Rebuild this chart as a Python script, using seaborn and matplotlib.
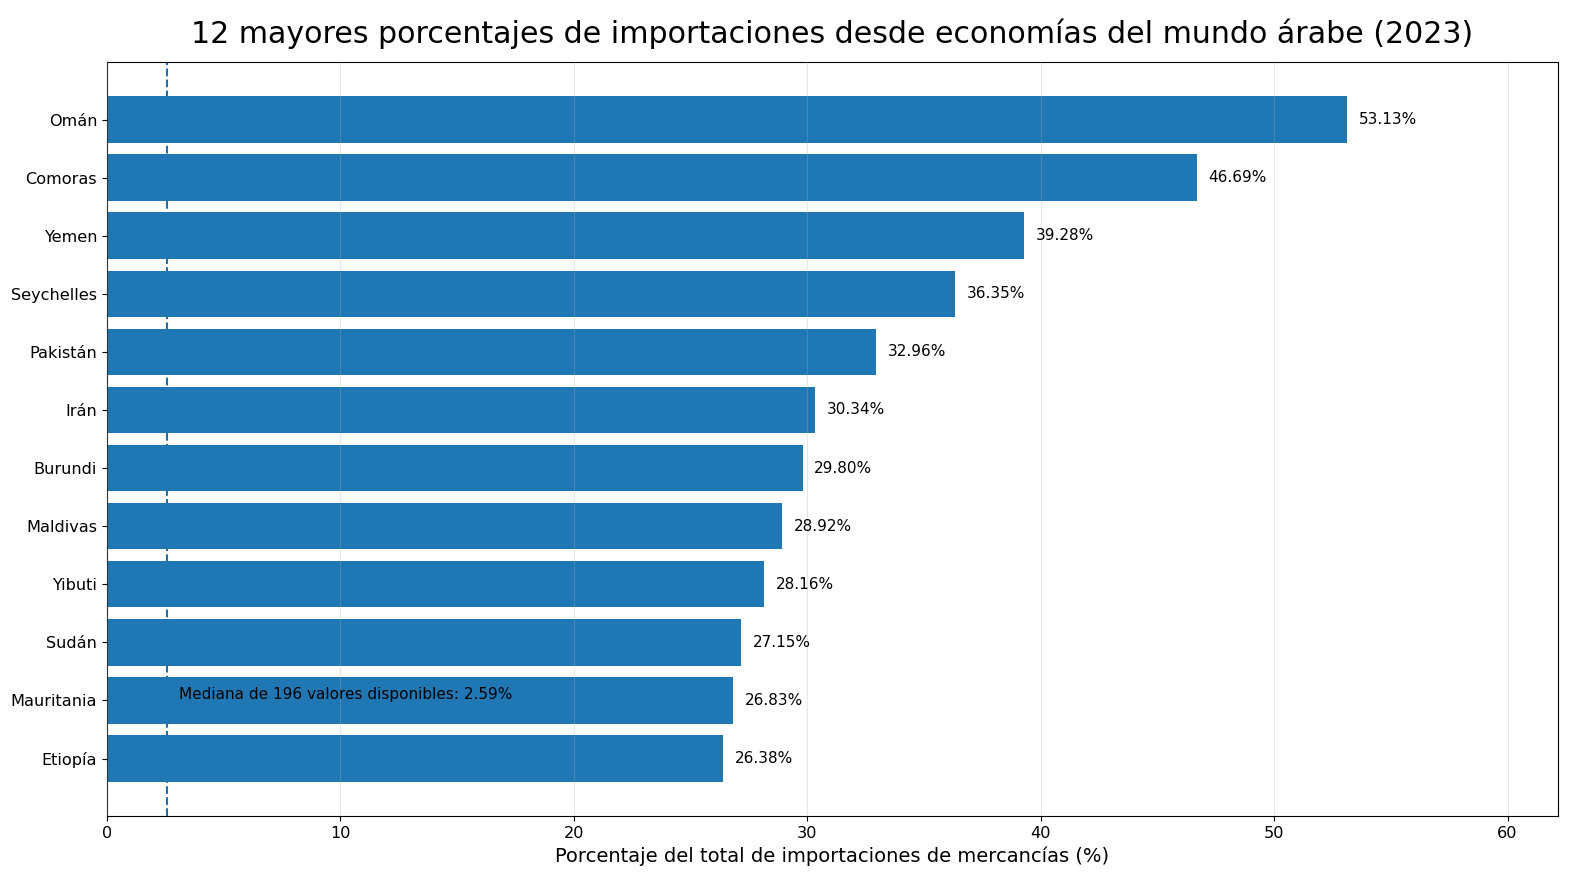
import pandas as pd
import matplotlib
matplotlib.use("Agg")
import matplotlib.pyplot as plt
import seaborn as sns

# Datos
paises = ["Omán", "Comoras", "Yemen", "Seychelles", "Pakistán", "Irán",
          "Burundi", "Maldivas", "Yibuti", "Sudán", "Mauritania", "Etiopía"]
porcentajes = [53.13, 46.69, 39.28, 36.35, 32.96, 30.34,
               29.80, 28.92, 28.16, 27.15, 26.83, 26.38]
mediana = 2.59
n_valores = 196

df = pd.DataFrame({"pais": paises, "pct": porcentajes})

fig, ax = plt.subplots(figsize=(15.89, 8.9), dpi=100)
fig.subplots_adjust(left=0.0673, right=0.9805, top=0.9303, bottom=0.0831)

sns.barplot(data=df, x="pct", y="pais", orient="h", color="#1f77b4",
            saturation=1, width=0.8, ax=ax, zorder=1)

# etiquetas de valor
for i, v in enumerate(porcentajes):
    ax.text(v + 0.5, i, f"{v:.2f}%", va="center", ha="left", fontsize=11)

# línea de la mediana
ax.axvline(mediana, color="#1f6fa8", linestyle="--", linewidth=1.5, zorder=0.5)
ax.text(mediana + 0.5, len(paises) - 2.1, f"Mediana de {n_valores} valores disponibles: {mediana:.2f}%",
        va="center", ha="left", fontsize=11)

ax.set_xlim(0, max(porcentajes) * 1.17)
ax.set_ylim(len(paises) - 0.01, -0.99)
ax.grid(axis="x", color="#b0b0b0", alpha=0.3)
ax.set_axisbelow(False)
ax.set_title("12 mayores porcentajes de importaciones desde economías del mundo árabe (2023)",
             fontsize=21.6, pad=14)
ax.set_xlabel("Porcentaje del total de importaciones de mercancías (%)", fontsize=14)
ax.set_ylabel("")
ax.tick_params(axis="both", labelsize=11.6)

plt.savefig("out.png")
